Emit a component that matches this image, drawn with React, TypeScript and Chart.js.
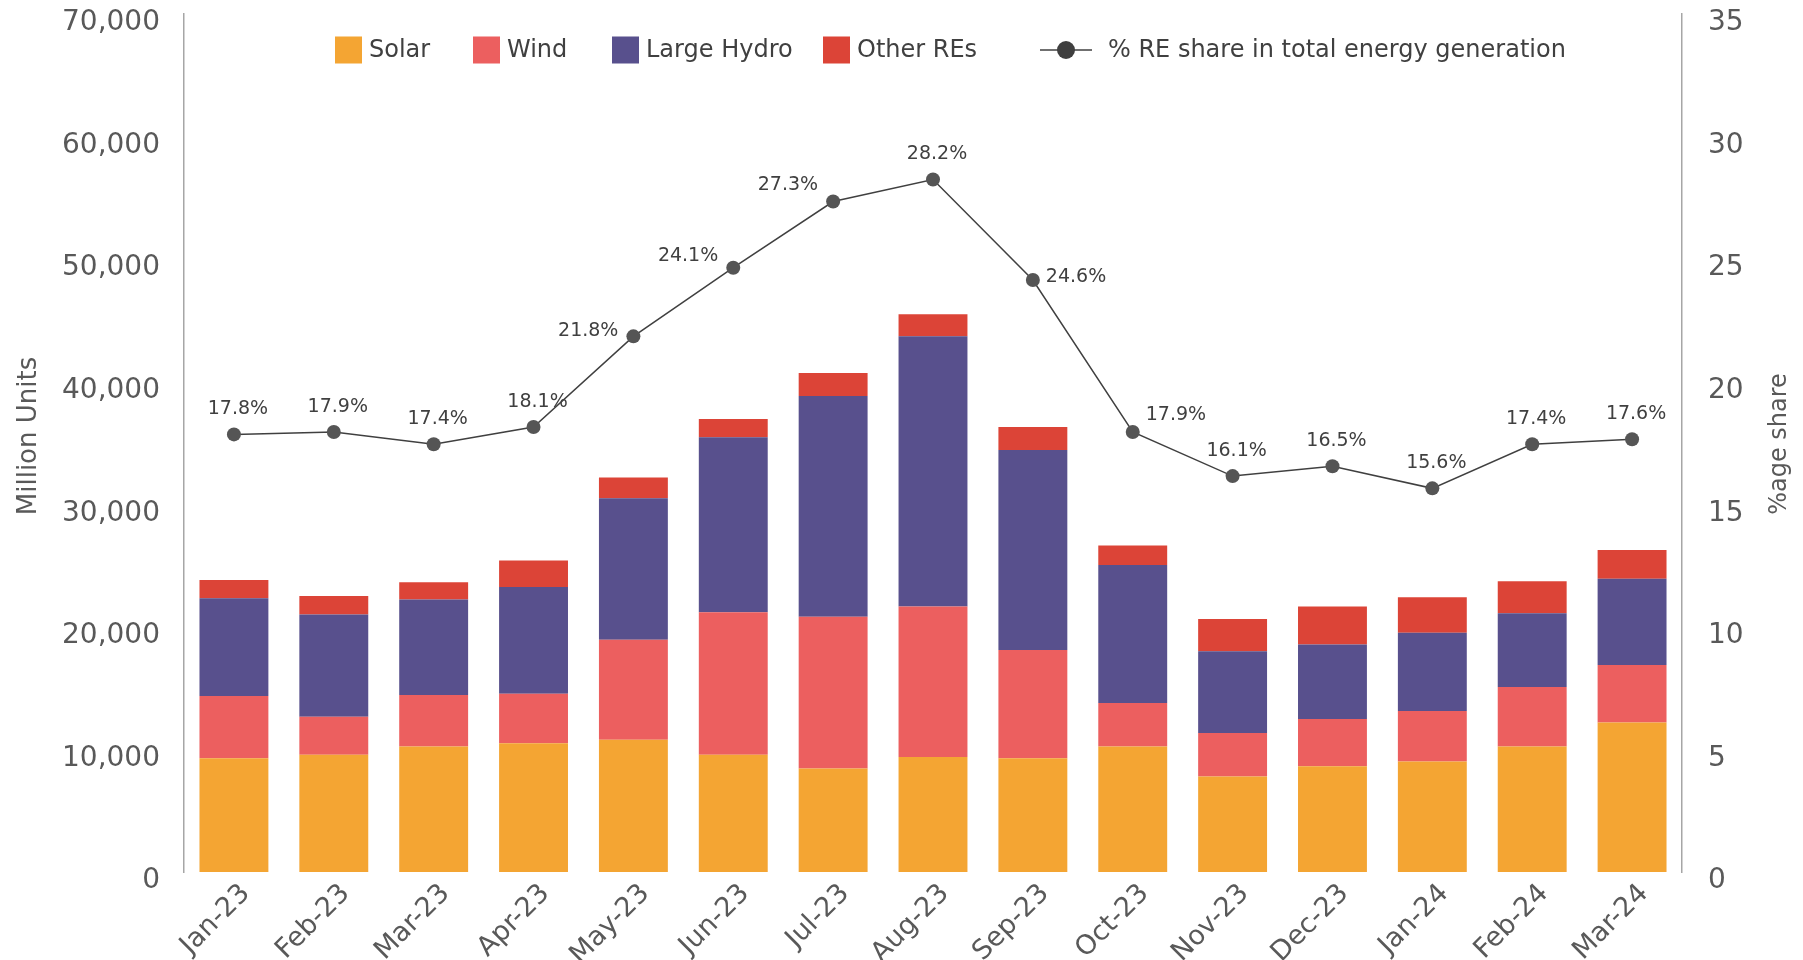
import React, { useEffect, useRef } from "react";
import { Chart, registerables } from "chart.js";

Chart.register(...registerables);

const FONT = "'DejaVu Sans', sans-serif";

const months = ["Jan-23", "Feb-23", "Mar-23", "Apr-23", "May-23", "Jun-23", "Jul-23", "Aug-23", "Sep-23", "Oct-23", "Nov-23", "Dec-23", "Jan-24", "Feb-24", "Mar-24"];
const solar = [9290, 9570, 10230, 10510, 10790, 9570, 8440, 9380, 9290, 10230, 7790, 8630, 9010, 10230, 12200];
const wind = [5060, 3090, 4220, 4030, 8160, 11630, 12390, 12290, 8820, 3560, 3560, 3850, 4120, 4870, 4690];
const largeHydro = [7980, 8350, 7780, 8720, 11540, 14260, 18010, 22040, 16320, 11260, 6660, 6090, 6380, 6010, 7030];
const otherREs = [1500, 1500, 1410, 2160, 1690, 1500, 1870, 1790, 1870, 1590, 2630, 3100, 2910, 2620, 2350];
// plotted point values
const reShare = [17.85, 17.95, 17.45, 18.15, 21.85, 24.65, 27.35, 28.25, 24.15, 17.95, 16.15, 16.55, 15.65, 17.45, 17.65];
// data label texts as printed on the chart
const reShareLabels = ["17.8%", "17.9%", "17.4%", "18.1%", "21.8%", "24.1%", "27.3%", "28.2%", "24.6%", "17.9%", "16.1%", "16.5%", "15.6%", "17.4%", "17.6%"];

const leftTicks = [0, 10000, 20000, 30000, 40000, 50000, 60000, 70000];
const rightTicks = [0, 5, 10, 15, 20, 25, 30, 35];

const COLORS = {
  solar: "#F4A533",
  wind: "#EC5F5F",
  hydro: "#58508D",
  other: "#DC4437",
  line: "#404040",
  point: "#555555",
  text: "#404040",
  tick: "#595959",
  axis: "#A6A6A6",
};

// label placement relative to the point: [side, vertical shift]
const labelSide: Record<number, [string, number]> = {
  4: ["left", -5],
  5: ["left", -12],
  6: ["left", -16],
  8: ["right", -3],
  9: ["right", -17],
};

const legendItems = [
  { label: "Solar", color: COLORS.solar, kind: "box", x: 335 },
  { label: "Wind", color: COLORS.wind, kind: "box", x: 473 },
  { label: "Large Hydro", color: COLORS.hydro, kind: "box", x: 612 },
  { label: "Other REs", color: COLORS.other, kind: "box", x: 823 },
  { label: "% RE share in total energy generation", color: COLORS.point, kind: "line", x: 1040 },
];

const overlayPlugin = {
  id: "overlay",
  afterDatasetsDraw(chart: any) {
    const ctx = chart.ctx;
    const meta = chart.getDatasetMeta(4);
    ctx.save();
    ctx.font = `19px ${FONT}`;
    ctx.fillStyle = COLORS.text;
    ctx.textBaseline = "middle";
    meta.data.forEach((pt: any, i: number) => {
      const txt = reShareLabels[i];
      const place = labelSide[i];
      if (!place) {
        ctx.textAlign = "center";
        ctx.fillText(txt, pt.x + 4, pt.y - 25);
      } else if (place[0] === "left") {
        ctx.textAlign = "right";
        ctx.fillText(txt, pt.x - 15, pt.y + place[1]);
      } else {
        ctx.textAlign = "left";
        ctx.fillText(txt, pt.x + 13, pt.y + place[1]);
      }
    });
    ctx.restore();
  },
  afterDraw(chart: any) {
    const ctx = chart.ctx;
    ctx.save();
    // legend
    ctx.font = `24px ${FONT}`;
    const cy = 50;
    const box = 27;
    legendItems.forEach((it) => {
      ctx.textAlign = "left";
      ctx.textBaseline = "middle";
      if (it.kind === "box") {
        ctx.fillStyle = it.color;
        ctx.fillRect(it.x, cy - box / 2, box, box);
        ctx.fillStyle = COLORS.text;
        ctx.fillText(it.label, it.x + box + 7, cy + 1);
      } else {
        ctx.strokeStyle = COLORS.line;
        ctx.lineWidth = 1.5;
        ctx.beginPath();
        ctx.moveTo(it.x, cy);
        ctx.lineTo(it.x + 52, cy);
        ctx.stroke();
        ctx.fillStyle = "#3F3F3F";
        ctx.beginPath();
        ctx.arc(it.x + 26, cy, 9, 0, Math.PI * 2);
        ctx.fill();
        ctx.fillStyle = COLORS.text;
        ctx.fillText(it.label, it.x + 52 + 16, cy + 1);
      }
    });
    // axis titles, reading bottom-to-top
    ctx.fillStyle = COLORS.tick;
    ctx.textAlign = "center";
    ctx.textBaseline = "middle";
    ctx.save();
    ctx.translate(29, 436);
    ctx.rotate(-Math.PI / 2);
    ctx.font = `26px ${FONT}`;
    ctx.fillText("Million Units", 0, 0);
    ctx.restore();
    ctx.save();
    ctx.translate(1780, 444);
    ctx.rotate(-Math.PI / 2);
    ctx.font = `24px ${FONT}`;
    ctx.fillText("%age share", 0, 0);
    ctx.restore();
    ctx.restore();
  },
};

export default function App() {
  const ref = useRef<HTMLCanvasElement | null>(null);

  useEffect(() => {
    if (!ref.current) return;
    const barCommon = {
      type: "bar" as const,
      yAxisID: "y",
      stack: "re",
      order: 1,
      barPercentage: 0.69,
      categoryPercentage: 1,
      borderWidth: 0,
    };
    const chart = new Chart(ref.current, {
      type: "bar",
      data: {
        labels: months,
        datasets: [
          { ...barCommon, label: "Solar", data: solar, backgroundColor: COLORS.solar },
          { ...barCommon, label: "Wind", data: wind, backgroundColor: COLORS.wind },
          { ...barCommon, label: "Large Hydro", data: largeHydro, backgroundColor: COLORS.hydro },
          { ...barCommon, label: "Other REs", data: otherREs, backgroundColor: COLORS.other },
          {
            type: "line",
            label: "% RE share in total energy generation",
            data: reShare,
            yAxisID: "y1",
            order: 0,
            borderColor: COLORS.line,
            borderWidth: 1.5,
            pointRadius: 7,
            pointBackgroundColor: COLORS.point,
            pointBorderColor: COLORS.point,
            pointBorderWidth: 0,
            tension: 0,
          } as any,
        ],
      },
      options: {
        responsive: false,
        animation: false,
        devicePixelRatio: 1,
        layout: { padding: { top: 14, left: 0, right: 0, bottom: 0 } },
        plugins: {
          legend: { display: false },
          tooltip: { enabled: false },
          title: { display: false },
        },
        scales: {
          x: {
            stacked: true,
            offset: true,
            grid: { display: false, drawTicks: false },
            border: { display: false },
            ticks: {
              color: COLORS.tick,
              font: { family: FONT, size: 27 },
              maxRotation: 45,
              minRotation: 45,
              padding: 6,
              labelOffset: 12,
            },
            afterFit: (s: any) => {
              s.height = 88;
              s.paddingLeft = 0;
              s.paddingRight = 0;
            },
          },
          y: {
            type: "linear",
            position: "left",
            stacked: true,
            min: 0,
            max: 70000,
            afterBuildTicks: (s: any) => {
              s.ticks = leftTicks.map((v) => ({ value: v }));
            },
            grid: { display: false, drawTicks: false },
            border: { display: true, color: COLORS.axis, width: 1.5 },
            ticks: {
              color: COLORS.tick,
              font: { family: FONT, size: 28 },
              padding: 24,
              labelOffset: 9,
              callback: (v: any) => Number(v).toLocaleString("en-US"),
            },
            afterFit: (s: any) => {
              s.width = 184;
              s.paddingTop = 0;
              s.paddingBottom = 0;
            },
          },
          y1: {
            type: "linear",
            position: "right",
            min: 0,
            max: 35,
            afterBuildTicks: (s: any) => {
              s.ticks = rightTicks.map((v) => ({ value: v }));
            },
            grid: { display: false, drawTicks: false },
            border: { display: true, color: COLORS.axis, width: 1.5 },
            ticks: {
              color: COLORS.tick,
              font: { family: FONT, size: 28 },
              padding: 26,
              labelOffset: 9,
            },
            afterFit: (s: any) => {
              s.width = 121;
              s.paddingTop = 0;
              s.paddingBottom = 0;
            },
          },
        },
      },
      plugins: [overlayPlugin],
    });
    return () => chart.destroy();
  }, []);

  return (
    <div style={{ position: "absolute", left: 0, top: 0, width: 1803, height: 960, background: "#fff" }}>
      <canvas ref={ref} width={1803} height={960} style={{ display: "block" }} />
    </div>
  );
}
